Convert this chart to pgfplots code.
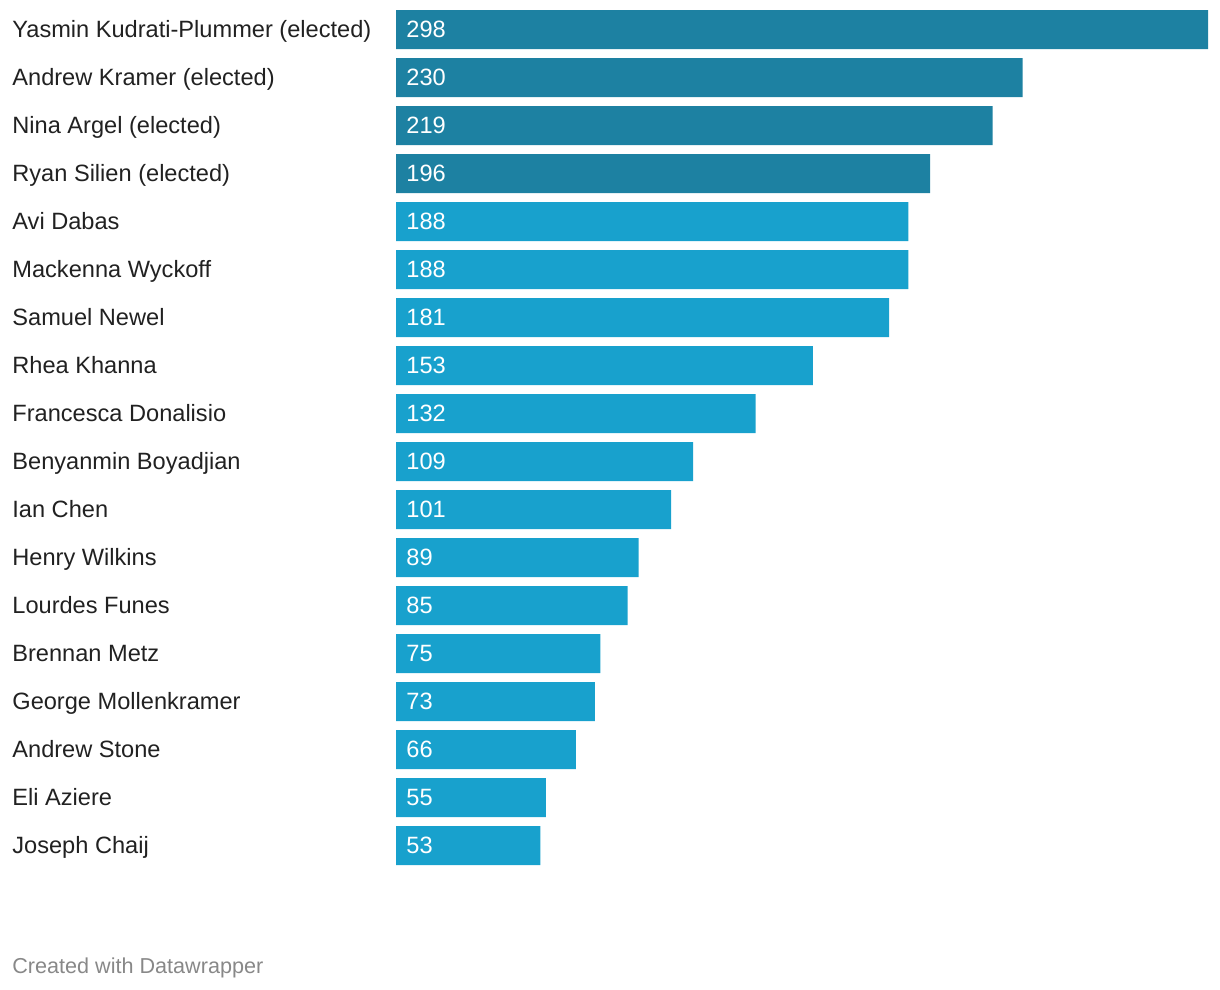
\documentclass[border=0pt]{standalone}
\usepackage{pgfplots}
\usepackage{pgfplotstable}
\pgfplotsset{compat=1.18}
\usepackage{fontspec}
\setmainfont{Liberation Sans}
\definecolor{elect}{HTML}{1D81A2}
\definecolor{other}{HTML}{18A1CD}
\definecolor{foot}{HTML}{888888}
\pgfplotstableread{
y v
0 298
1 230
2 219
3 196
}\elected
\pgfplotstableread{
y v
4 188
5 188
6 181
7 153
8 132
9 109
10 101
11 89
12 85
13 75
14 73
15 66
16 55
17 53
}\others
\pgfplotstableread{
y v
0 298
1 230
2 219
3 196
4 188
5 188
6 181
7 153
8 132
9 109
10 101
11 89
12 85
13 75
14 73
15 66
16 55
17 53
}\allv
\begin{document}
\begin{tikzpicture}
\path[use as bounding box] (0bp,0bp) rectangle (610bp,495bp);
\begin{axis}[
  at={(198bp,492.25bp)}, anchor=north west,
  scale only axis, width=406bp, height=432bp,
  xmin=0, xmax=298, ymin=-0.5, ymax=17.5, y dir=reverse,
  axis line style={draw=none},
  tick style={draw=none},
  xtick=\empty,
  ytick={0,...,17},
  yticklabels={Yasmin Kudrati-Plummer (elected),Andrew Kramer (elected),Nina Argel (elected),Ryan Silien (elected),Avi Dabas,Mackenna Wyckoff,Samuel Newel,Rhea Khanna,Francesca Donalisio,Benyanmin Boyadjian,Ian Chen,Henry Wilkins,Lourdes Funes,Brennan Metz,George Mollenkramer,Andrew Stone,Eli Aziere,Joseph Chaij},
  yticklabel style={anchor=base west, inner sep=0pt, xshift=-192bp, yshift=-4.15bp, font=\fontsize{11.8bp}{14bp}\selectfont, text=black!87},
  major tick length=0pt,
  clip=false,
]
\addplot[xbar, bar width=19.5bp, bar shift=0pt, fill=elect, draw=none] table[x=v,y=y] {\elected};
\addplot[xbar, bar width=19.5bp, bar shift=0pt, fill=other, draw=none] table[x=v,y=y] {\others};
\addplot[only marks, mark=none, nodes near coords, point meta=explicit symbolic,
  nodes near coords style={anchor=base west, inner sep=0pt, xshift=5bp, yshift=-4.15bp, text=white, font=\fontsize{11.8bp}{14bp}\selectfont}]
  table[x expr=0, y=y, meta=v] {\allv};
\end{axis}
\node[anchor=west, inner sep=0pt, text=foot, font=\fontsize{10.8bp}{12bp}\selectfont] at (6bp,11bp) {Created with Datawrapper};
\end{tikzpicture}
\end{document}
